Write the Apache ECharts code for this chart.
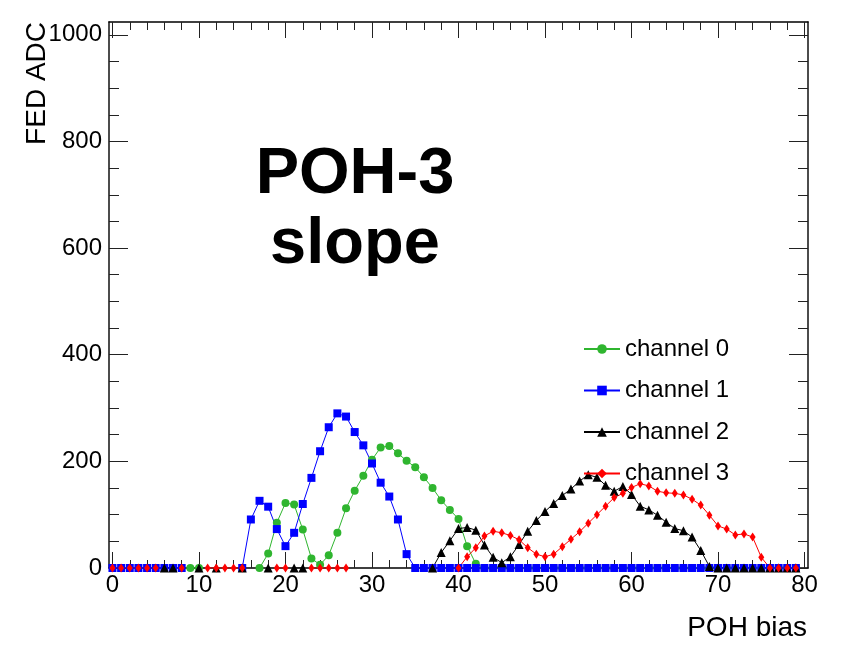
<!DOCTYPE html>
<html>
<head>
<meta charset="utf-8">
<script src="https://cdn.jsdelivr.net/npm/echarts@6/dist/echarts.min.js"></script>
<style>html,body{margin:0;padding:0;background:#fff;}#c{width:847px;height:646px;}</style>
</head>
<body>
<div id="c"></div>
<script>
const xValues = [0,1,2,3,4,5,6,7,8,9,10,11,12,13,14,15,16,17,18,19,20,21,22,23,24,25,26,27,28,29,30,31,32,33,34,35,36,37,38,39,40,41,42,43,44,45,46,47,48,49,50,51,52,53,54,55,56,57,58,59,60,61,62,63,64,65,66,67,68,69,70,71,72,73,74,75,76,77,78,79];
const channel0 = [null,null,null,null,null,null,null,null,null,0,0,null,null,null,null,null,null,0,27,85,122,119,72,18,6,24,66,112,145,173,203,226,229,215,201,189,170,150,127,109,92,41,8,0,0,0,0,0,0,0,0,0,0,0,0,0,0,0,0,0,0,0,0,0,0,0,0,0,0,0,0,0,0,0,0,0,0,0,0,0];
const channel1 = [0,0,0,0,0,0,0,0,0,null,null,null,null,null,null,0,91,126,115,73,41,66,120,169,219,264,290,284,255,230,196,160,134,91,26,0,0,0,0,0,0,0,0,0,0,0,0,0,0,0,0,0,0,0,0,0,0,0,0,0,0,0,0,0,0,0,0,0,0,0,0,0,0,0,0,0,0,0,0,0];
const channel2 = [null,null,null,null,null,null,0,0,null,null,0,null,0,null,null,0,null,null,0,null,null,0,0,null,null,null,null,null,null,null,null,null,null,null,null,null,null,0,29,51,74,76,71,43,20,10,21,44,69,89,106,121,136,148,163,175,170,155,144,153,138,116,109,99,86,74,70,58,33,3,0,0,0,0,0,0,0,0,0,0];
const channel3 = [0,0,0,0,0,0,null,null,0,null,null,0,0,0,0,0,null,null,null,0,0,null,null,0,0,0,0,0,null,null,null,null,null,null,null,null,null,null,null,null,0,21,38,60,69,66,61,53,38,26,21,26,40,54,68,84,100,116,132,140,151,158,154,144,141,140,137,129,118,99,79,73,62,64,58,20,0,0,0,0];
const seriesNames = ['channel 0','channel 1','channel 2','channel 3'];
const xMajorTicks = [0,10,20,30,40,50,60,70,80];
const xMinorTicks = [2,4,6,8,12,14,16,18,22,24,26,28,32,34,36,38,42,44,46,48,52,54,56,58,62,64,66,68,72,74,76,78];
const yMajorTicks = [0,200,400,600,800,1000];
const yMinorTicks = [50,100,150,250,300,350,450,500,550,650,700,750,850,900,950];

const FONT = '"Liberation Sans", Arial, Helvetica, sans-serif';
const chart = echarts.init(document.getElementById('c'));

function pairs(ys) {
  return xValues.map((x, i) => [x, ys[i] === null ? '-' : ys[i]]);
}

function xAx(pos, ticks, len, labels, line) {
  return {
    type: 'value', position: pos, min: -0.4, max: 80.4,
    axisLine: {show: line, onZero: false, lineStyle: {color: '#000', width: 1.5}},
    axisTick: {show: true, inside: true, length: len, customValues: ticks, lineStyle: {color: '#222', width: 1}},
    axisLabel: {show: labels, customValues: ticks, fontSize: 24, color: '#000', fontFamily: FONT, margin: 5,
      formatter: v => String(v)},
    splitLine: {show: false}
  };
}
function yAx(pos, ticks, len, labels, line) {
  return {
    type: 'value', position: pos, min: 0, max: 1024,
    axisLine: {show: line, onZero: false, lineStyle: {color: '#111', width: 1.5}},
    axisTick: {show: true, inside: true, length: len, customValues: ticks, lineStyle: {color: '#222', width: 1}},
    axisLabel: {show: labels, customValues: ticks, fontSize: 24, color: '#000', fontFamily: FONT, margin: 7,
      formatter: v => String(v)},
    splitLine: {show: false}
  };
}

const colors = ['#2fb52f', '#0000ff', '#000000', '#ff0000'];
const symbols = ['circle', 'rect', 'triangle', 'diamond'];
const sizes = [8, 8, 9, [6, 9]];
const allData = [channel0, channel1, channel2, channel3];

const series = allData.map((d, i) => ({
  name: seriesNames[i], type: 'line', data: pairs(d),
  xAxisIndex: 0, yAxisIndex: 0,
  symbol: symbols[i], symbolSize: sizes[i], showSymbol: true,
  connectNulls: false, animation: false,
  lineStyle: {color: colors[i], width: 1},
  itemStyle: {color: colors[i]}
}));

chart.setOption({
  animation: false,
  grid: {left: 109, right: 39, top: 22, bottom: 78, containLabel: false},
  xAxis: [
    xAx('bottom', xMajorTicks, 16, true, true),
    xAx('bottom', xMinorTicks, 8, false, false),
    xAx('top', xMajorTicks, 16, false, true),
    xAx('top', xMinorTicks, 8, false, false)
  ],
  yAxis: [
    yAx('left', yMajorTicks, 19, true, true),
    yAx('left', yMinorTicks, 10, false, false),
    yAx('right', yMajorTicks, 19, false, true),
    yAx('right', yMinorTicks, 10, false, false)
  ],
  legend: {
    orient: 'vertical', left: 583, top: 337, padding: 0,
    itemWidth: 36, itemHeight: 12, itemGap: 17.5,
    data: seriesNames,
    textStyle: {fontSize: 24, color: '#000', fontFamily: FONT, lineHeight: 24},
    selectedMode: false
  },
  series: series,
  graphic: [
    {type: 'text', x: 355, y: 140, style: {text: 'POH-3\nslope', fontSize: 65, fontWeight: 'bold', fontFamily: FONT, fill: '#000', align: 'center', verticalAlign: 'top', lineHeight: 70}},
    {type: 'text', x: 807, y: 628, style: {text: 'POH bias', fontSize: 28, fontFamily: FONT, fill: '#000', align: 'right', verticalAlign: 'middle'}},
    {type: 'text', x: 37, y: 22, rotation: Math.PI / 2, style: {text: 'FED ADC', fontSize: 28, fontFamily: FONT, fill: '#000', align: 'right', verticalAlign: 'middle'}}
  ]
});
</script>
</body>
</html>
